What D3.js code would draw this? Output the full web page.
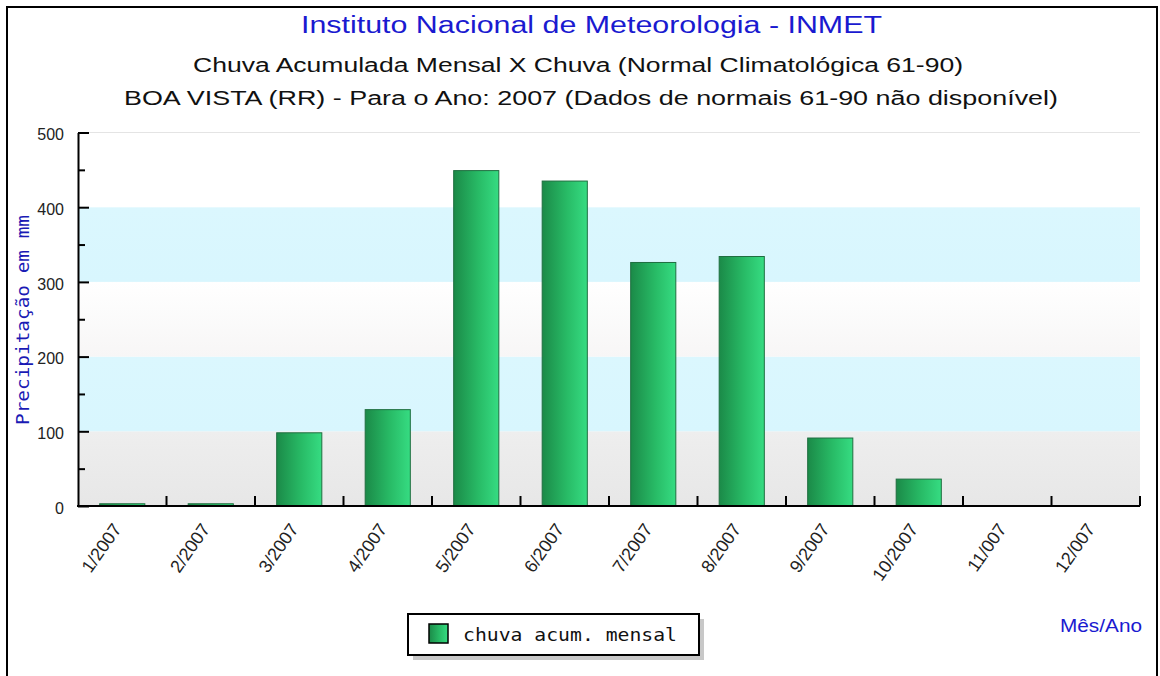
<!DOCTYPE html>
<html>
<head>
<meta charset="utf-8">
<script src="https://cdn.jsdelivr.net/npm/d3@7"></script>
<style>
  html, body { margin: 0; padding: 0; background: #fff; }
  svg { display: block; }
</style>
</head>
<body>
<svg id="chart" width="1160" height="676"></svg>
<script>
const months = ["1/2007","2/2007","3/2007","4/2007","5/2007","6/2007","7/2007","8/2007","9/2007","10/2007","11/007","12/007"];
const rain = [3, 3, 98, 129, 449, 435, 326, 334, 91, 36, 0, 0];
const yMajorTicks = [0, 100, 200, 300, 400, 500];
const yMinorTicks = [50, 150, 250, 350, 450];
const bands = [
  {from: 0, to: 100, fill: "url(#gGray)"},
  {from: 100, to: 200, fill: "url(#gCyan)"},
  {from: 200, to: 300, fill: "url(#gWhite)"},
  {from: 300, to: 400, fill: "url(#gCyan)"},
  {from: 400, to: 500, fill: "#ffffff"}
];
const titleText = "Instituto Nacional de Meteorologia - INMET";
const subtitle1 = "Chuva Acumulada Mensal X Chuva (Normal Climatológica 61-90)";
const subtitle2 = "BOA VISTA (RR) - Para o Ano: 2007 (Dados de normais 61-90 não disponível)";
const yTitle = "Precipitação em mm";
const xTitle = "Mês/Ano";
const legendLabel = "chuva acum. mensal";

const svg = d3.select("#chart");
const defs = svg.append("defs");

function lin(id, x2, y2, stops) {
  const g = defs.append("linearGradient").attr("id", id)
    .attr("x1", 0).attr("y1", 0).attr("x2", x2).attr("y2", y2);
  stops.forEach(s => g.append("stop").attr("offset", s[0]).attr("stop-color", s[1]));
}
lin("gBar", 1, 0, [[0, "#1b8a48"], [0.55, "#28bb66"], [1, "#36dc82"]]);
lin("gGray", 0, 1, [[0, "#eeeeee"], [1, "#e7e7e7"]]);
lin("gCyan", 0, 1, [[0, "#dbf7fe"], [1, "#d8f6fe"]]);
lin("gWhite", 0, 1, [[0, "#ffffff"], [1, "#f7f6f6"]]);

// outer frame
svg.append("rect").attr("x", 7).attr("y", 7).attr("width", 1150).attr("height", 680)
  .attr("fill", "#fff").attr("stroke", "#000").attr("stroke-width", 2);

const pLeft = 78, pRight = 1140, pTop = 132.5, pBottom = 506;

const x = d3.scaleBand().domain(months).range([pLeft, pRight]).paddingInner(0.49).paddingOuter(0.245);
const y = d3.scaleLinear().domain([0, 500]).range([pBottom, pTop]);

// background bands
svg.append("g").selectAll("rect").data(bands).join("rect")
  .attr("x", pLeft).attr("width", pRight - pLeft)
  .attr("y", d => y(d.to)).attr("height", d => y(d.from) - y(d.to))
  .attr("fill", d => d.fill);

// top border line of plot
svg.append("line").attr("x1", pLeft).attr("x2", pRight).attr("y1", y(500)).attr("y2", y(500))
  .attr("stroke", "#e4e4e4").attr("stroke-width", 1);

// bars
svg.append("g").selectAll("rect").data(rain).join("rect")
  .attr("x", (d, i) => x(months[i]))
  .attr("width", x.bandwidth())
  .attr("y", d => y(d))
  .attr("height", d => y(0) - y(d))
  .attr("fill", "url(#gBar)")
  .attr("stroke", d => d > 0 ? "#1f6e40" : "none")
  .attr("stroke-width", 1);

// y axis
const yAxis = d3.axisLeft(y).tickValues(yMajorTicks).tickSize(-11).tickPadding(14).tickSizeOuter(0);
const gy = svg.append("g").attr("transform", `translate(${pLeft},0)`).call(yAxis);
gy.select(".domain").attr("stroke", "#000").attr("stroke-width", 2);
gy.selectAll(".tick line").attr("stroke", "#000").attr("stroke-width", 2);
gy.selectAll(".tick text").attr("font-family", "Liberation Sans, Arial, sans-serif")
  .attr("font-size", 16).attr("fill", "#222").attr("dy", "0.45em");
const yMinor = d3.axisLeft(y).tickValues(yMinorTicks).tickSize(-7).tickFormat("").tickSizeOuter(0);
const gym = svg.append("g").attr("transform", `translate(${pLeft},0)`).call(yMinor);
gym.select(".domain").remove();
gym.selectAll(".tick line").attr("stroke", "#000").attr("stroke-width", 2);

// x axis
const gx = svg.append("g").attr("transform", `translate(0,${pBottom})`);
gx.append("line").attr("x1", pLeft - 1).attr("x2", pRight).attr("y1", 0).attr("y2", 0)
  .attr("stroke", "#000").attr("stroke-width", 2);
gx.selectAll("line.tk").data(months).join("line").attr("class", "tk")
  .attr("x1", d => x(d) + x.bandwidth() / 2 + x.step() / 2)
  .attr("x2", d => x(d) + x.bandwidth() / 2 + x.step() / 2)
  .attr("y1", 0).attr("y2", -10)
  .attr("stroke", "#000").attr("stroke-width", 2);
gx.selectAll("text").data(months).join("text")
  .attr("transform", d => `translate(${x(d) + x.bandwidth() / 2},${23}) rotate(-55)`)
  .attr("text-anchor", "end")
  .attr("font-family", "Liberation Sans, Arial, sans-serif")
  .attr("font-size", 18).attr("fill", "#222")
  .text(d => d);

// titles
function ttl(txt, xx, yy, size, color, len) {
  svg.append("text").attr("x", xx).attr("y", yy)
    .attr("font-family", "Liberation Sans, Arial, sans-serif")
    .attr("font-size", size).attr("fill", color)
    .attr("textLength", len).attr("lengthAdjust", "spacingAndGlyphs")
    .text(txt);
}
ttl(titleText, 301, 33, 23, "#1a1ad0", 581);
ttl(subtitle1, 193, 72, 20, "#111", 770);
ttl(subtitle2, 124, 104.5, 20, "#111", 934);

// y title
svg.append("text").attr("transform", "translate(29,425) rotate(-90)")
  .attr("font-family", "DejaVu Sans Mono, monospace").attr("font-size", 18)
  .attr("fill", "#1a1ab4").attr("textLength", 210).attr("lengthAdjust", "spacingAndGlyphs")
  .text(yTitle);

// x title
svg.append("text").attr("x", 1142).attr("y", 632).attr("text-anchor", "end")
  .attr("font-family", "Liberation Sans, Arial, sans-serif").attr("font-size", 18)
  .attr("fill", "#1a1ad0").attr("textLength", 82).attr("lengthAdjust", "spacingAndGlyphs")
  .text(xTitle);

// legend
const lg = svg.append("g");
lg.append("rect").attr("x", 413).attr("y", 619).attr("width", 291).attr("height", 41).attr("fill", "#c8c8c8");
lg.append("rect").attr("x", 408).attr("y", 614).attr("width", 291).attr("height", 41)
  .attr("fill", "#fff").attr("stroke", "#000").attr("stroke-width", 2);
lg.append("rect").attr("x", 429).attr("y", 624).attr("width", 19).attr("height", 19)
  .attr("fill", "url(#gBar)").attr("stroke", "#000").attr("stroke-width", 1.5);
lg.append("text").attr("x", 463).attr("y", 641)
  .attr("font-family", "DejaVu Sans Mono, monospace").attr("font-size", 18).attr("fill", "#111")
  .attr("textLength", 214).attr("lengthAdjust", "spacingAndGlyphs")
  .text(legendLabel);
</script>
</body>
</html>
